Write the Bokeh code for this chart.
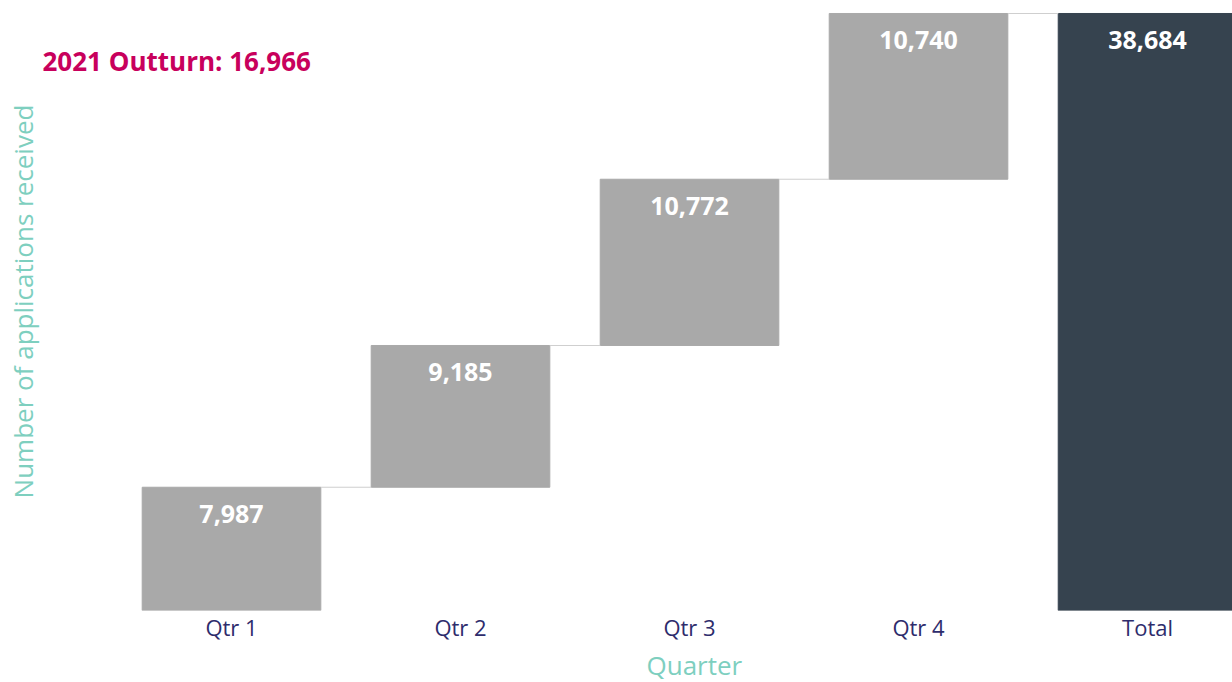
import math
from bokeh.plotting import figure
from bokeh.models import Range1d, FixedTicker, ColumnDataSource, Label, Title
from bokeh.core.properties import value
from bokeh.embed import file_html
from bokeh.resources import INLINE

categories = ["Qtr 1", "Qtr 2", "Qtr 3", "Qtr 4", "Total"]
increments = [7987, 9185, 10772, 10740]
outturn_2021 = 16966

# waterfall geometry derived from data
cum = []
s = 0
for v in increments:
    cum.append(s + v)
    s += v
total = s
bottoms = [c - v for c, v in zip(cum, increments)] + [0]
tops = cum + [total]
values = increments + [total]
xs = list(range(len(categories)))
colors = ["#A9A9A9"] * len(increments) + ["#36434F"]
labels = [f"{v:,}" for v in values]

bw = 0.78
src = ColumnDataSource(dict(x=xs, bottom=bottoms, top=tops, color=colors, label=labels))

W, H = 1232, 682
p = figure(width=W, height=H, output_backend="svg", toolbar_location=None,
           x_range=Range1d(-1.0087, 4.371), y_range=Range1d(0, total * 1.0134),
           min_border_left=0, min_border_right=0, min_border_top=5, min_border_bottom=0)

p.vbar(x="x", width=bw, bottom="bottom", top="top", color="color", source=src)

# connectors
cx0 = [i + bw / 2 for i in range(len(increments))]
cx1 = [i + 1 - bw / 2 for i in range(len(increments))]
p.segment(x0=cx0, y0=cum, x1=cx1, y1=cum, line_color="#CFCFCF", line_width=1)

p.text(x="x", y="top", text="label", source=src, text_color="white",
       text_font=value("Open Sans"), text_font_style="bold", text_font_size="25px",
       text_align="center", text_baseline="middle", y_offset=27)

p.add_layout(Label(x=42, y=550, x_units="screen", y_units="screen",
                   text=f"2021 Outturn: {outturn_2021:,}", text_color="#C8005C",
                   text_font="Open Sans", text_font_style="bold", text_font_size="26px",
                   text_baseline="middle", text_align="left"))

# y-axis title (axis has no ticks)
p.add_layout(Label(x=22, y=309, x_units="screen", y_units="screen", angle=math.pi / 2,
                   text="Number of applications received", text_color="#7ECFBF",
                   text_font="Open Sans", text_font_size="26px",
                   text_baseline="middle", text_align="center"))
p.yaxis.visible = False

p.xaxis.ticker = FixedTicker(ticks=xs)
p.xaxis.major_label_overrides = {i: c for i, c in enumerate(categories)}
p.xaxis.major_label_text_font = "Open Sans"
p.xaxis.major_label_text_font_size = "22px"
p.xaxis.major_label_text_color = "#2E2C6C"
p.xaxis.major_label_standoff = 1
p.xaxis.major_tick_out = 0
p.xaxis.major_tick_in = 0
p.xaxis.axis_line_color = None
p.xaxis.major_tick_line_color = None
p.xaxis.minor_tick_line_color = None

# x-axis title, placed under the category band
p.add_layout(Title(text="Quarter", align="left", offset=646, standoff=0,
                   text_font="Open Sans", text_font_style="normal", text_font_size="26px",
                   text_color="#7ECFBF"), "below")

p.xgrid.grid_line_color = None
p.ygrid.grid_line_color = None
p.outline_line_color = None

open("out.html", "w").write(file_html(p, INLINE))
